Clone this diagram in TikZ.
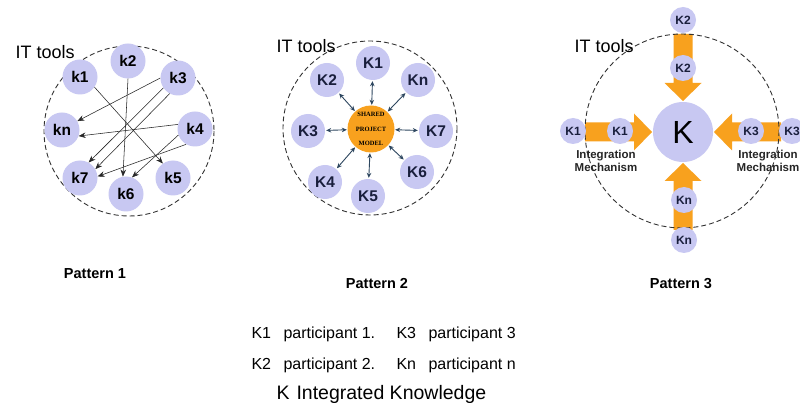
\documentclass[tikz,border=0pt]{standalone}
\usepackage{fontspec}
\setmainfont{Liberation Sans}
\newfontfamily\modelfont{Liberation Serif}
\usetikzlibrary{arrows.meta,calc}
\definecolor{lav}{RGB}{200,200,242}
\definecolor{orng}{RGB}{248,161,30}
\definecolor{linkc}{RGB}{45,70,95}
\definecolor{txtnavy}{RGB}{25,30,60}
\begin{document}
\begin{tikzpicture}[x=1pt,y=-1pt,
  ring/.style={draw=black!80, dash pattern=on 5pt off 3pt, line width=0.9pt},
  kone/.style={circle, fill=lav, minimum size=35pt, inner sep=0pt,
    font=\fontsize{15.5}{15.5}\selectfont\bfseries},
  ktwo/.style={circle, fill=lav, minimum size=34pt, inner sep=0pt, text=txtnavy,
    font=\fontsize{15.5}{15.5}\selectfont\bfseries},
  kthree/.style={circle, fill=lav, minimum size=26pt, inner sep=0pt, text=txtnavy,
    font=\fontsize{12}{12}\selectfont\bfseries},
  flow/.style={draw=black!85, line width=0.55pt, -{Stealth[length=7pt,width=5.5pt]}},
  link/.style={draw=linkc, line width=0.9pt,
    {Stealth[length=5pt,width=4.5pt]}-{Stealth[length=5pt,width=4.5pt]},
    shorten <=0.5pt, shorten >=1pt},
  tools/.style={anchor=base west, font=\fontsize{18}{18}\selectfont},
  caption/.style={anchor=base, font=\fontsize{14.5}{14.5}\selectfont\bfseries},
  mech/.style={font=\fontsize{11.5}{13}\selectfont\bfseries, text=black!85, align=center},
  legend/.style={anchor=base west, font=\fontsize{16}{16}\selectfont},
]
\path[use as bounding box, fill=white] (0,0) rectangle (800,403);

% ---------- Pattern 1: point-to-point exchange ----------
\draw[ring] (129,131) circle[radius=85];
\node[tools] (it1) at (12,59) {IT tools};
\node[kone] (k1) at (80,77) {k1};
\node[kone] (k2) at (128,61) {k2};
\node[kone] (k3) at (178,78) {k3};
\node[kone] (kn) at (62,130) {kn};
\node[kone] (k4) at (195,129) {k4};
\node[kone] (k7) at (80,178) {k7};
\node[kone] (k6) at (126,194) {k6};
\node[kone] (k5) at (173,178) {k5};
\draw[flow] (k1.-35) -- (k5.125);
\draw[flow] (k2.270) -- (k6.100);
\draw[flow] (k3.180) -- (kn.30);
\draw[flow] (k3.214) -- (k7.61);
\draw[flow] (k3.242) -- (k7.30);
\draw[flow] (k4.165) -- (kn.-20);
\draw[flow] (k4.200) -- (k6.70);
\draw[flow] (k4.240) -- (k7.5);
\node[caption] (cap1) at (95,279) {Pattern 1};

% ---------- Pattern 2: shared project model ----------
\draw[ring] (370,128) circle[radius=87];
\node[tools] (it2) at (273,53) {IT tools};
\node[circle, fill=orng, minimum size=47pt, inner sep=0pt] (spm) at (371,129) {};
\node[align=center, inner sep=0pt,
  font=\modelfont\bfseries\fontsize{6.5}{14.5}\selectfont] (spmtext) at (spm.center)
  {SHARED\\PROJECT\\MODEL};
\node[ktwo] (p1) at (373,63) {K1};
\node[ktwo] (p2) at (327,80) {K2};
\node[ktwo] (pn) at (418,80) {Kn};
\node[ktwo] (p3) at (308,131) {K3};
\node[ktwo] (p7) at (436,131) {K7};
\node[ktwo] (p4) at (325,182) {K4};
\node[ktwo] (p6) at (417,172) {K6};
\node[ktwo] (p5) at (368,196) {K5};
\foreach \p in {p1,p2,pn,p3,p7,p4,p6,p5}
  \draw[link] (spm) -- (\p);
\node[caption] (cap2) at (377,288) {Pattern 2};

% ---------- Pattern 3: integration mechanism ----------
\node[circle, fill=lav, minimum size=60pt, inner sep=0pt,
  font=\fontsize{32}{32}\selectfont] (K) at (683,132) {K};
\begin{scope}[shift={(K.center)}]
  \foreach \a in {0,90,180,270}
    \fill[orng, rotate=\a] (98,-9.5) -- (49,-9.5) -- (49,-18.5) -- (31,0)
      -- (49,18.5) -- (49,9.5) -- (98,9.5) -- cycle;
\end{scope}
\draw[ring] (682,131) circle[radius=97];
\node[tools] (it3) at (571,53) {IT tools};
\node[kthree] (q2o) at (683,20) {K2};
\node[kthree] (q2i) at (683,68) {K2};
\node[kthree] (q1o) at (573,131) {K1};
\node[kthree] (q1i) at (620,131) {K1};
\node[kthree] (q3i) at (751,131) {K3};
\node[kthree] (q3o) at (792,131) {K3};
\node[kthree] (qni) at (684,200) {Kn};
\node[kthree] (qno) at (684,240) {Kn};
\node[mech] (mechl) at (606,161) {Integration\\Mechanism};
\node[mech] (mechr) at (768,161) {Integration\\Mechanism};
\node[caption] (cap3) at (681,288) {Pattern 3};

% ---------- Legend ----------
\node[legend] (l1k) at (248,338) {K1};
\node[legend] (l1d) at (280,338) {participant 1.};
\node[legend] (l3k) at (393,338) {K3};
\node[legend] (l3d) at (425,338) {participant 3};
\node[legend] (l2k) at (248,369) {K2};
\node[legend] (l2d) at (280,369) {participant 2.};
\node[legend] (lnk) at (393,369) {Kn};
\node[legend] (lnd) at (425,369) {participant n};
\node[legend, font=\fontsize{19.5}{19.5}\selectfont] (lKk) at (273,399) {K};
\node[legend, font=\fontsize{19.5}{19.5}\selectfont] (lKd) at (293,399) {Integrated Knowledge};
\end{tikzpicture}
\end{document}
